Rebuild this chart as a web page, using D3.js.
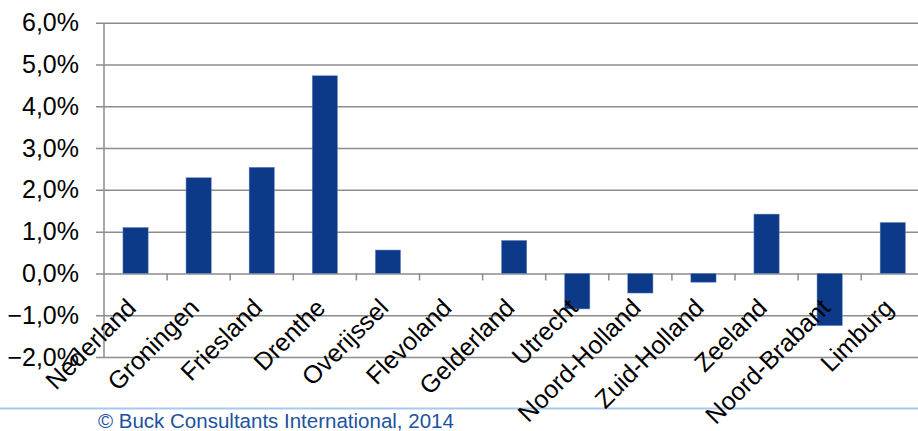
<!DOCTYPE html>
<html>
<head>
<meta charset="utf-8">
<script src="https://cdn.jsdelivr.net/npm/d3@7"></script>
<style>
  html, body { margin: 0; padding: 0; background: #fff; }
  svg { display: block; }
  text { font-family: "Liberation Sans", Arial, sans-serif; }
</style>
</head>
<body>
<svg id="chart" width="918" height="431"></svg>
<script>
const categories = ["Nederland", "Groningen", "Friesland", "Drenthe", "Overijssel", "Flevoland",
  "Gelderland", "Utrecht", "Noord-Holland", "Zuid-Holland", "Zeeland", "Noord-Brabant", "Limburg"];
const values = [1.10, 2.29, 2.54, 4.73, 0.56, 0.00, 0.79, -0.85, -0.47, -0.21, 1.42, -1.25, 1.22];
const yTicks = [-2, -1, 0, 1, 2, 3, 4, 5, 6];
const copyright = "© Buck Consultants International, 2014";

const svg = d3.select("#chart");
const W = 918;
const plotLeft = 104, plotRight = 924.3, plotTop = 22.7, plotBottom = 357;

const x = d3.scaleBand().domain(categories).range([plotLeft, plotRight])
  .paddingInner(0.6).paddingOuter(0.3);
const step = x.step();
const y = d3.scaleLinear().domain([-2, 6]).range([plotBottom, plotTop]);
const fmt = v => d3.format(".1f")(v).replace(".", ",") + "%";

// gridlines + y tick labels
const yAxis = d3.axisLeft(y).tickValues(yTicks).tickFormat(fmt)
  .tickSizeInner(-(W - 96)).tickSizeOuter(0).tickPadding(17);
const gy = svg.append("g").attr("transform", "translate(96,0)").call(yAxis);
gy.select(".domain").remove();
gy.selectAll(".tick line").attr("stroke", "#8c8c8c").attr("stroke-width", 1.5);
gy.selectAll(".tick text").attr("fill", "#000").style("font-size", "25px")
  .style("font-family", "'Liberation Sans', Arial, sans-serif");

// vertical axis line
svg.append("line").attr("x1", plotLeft).attr("x2", plotLeft)
  .attr("y1", y(6)).attr("y2", y(-2)).attr("stroke", "#8c8c8c").attr("stroke-width", 1.5);

// category tick marks at band boundaries
const bounds = categories.map((c, i) => plotLeft + i * step).slice(1);
svg.append("g").selectAll("line").data(bounds).join("line")
  .attr("x1", d => d).attr("x2", d => d)
  .attr("y1", y(0)).attr("y2", y(0) + 7)
  .attr("stroke", "#8c8c8c").attr("stroke-width", 1.5);

// bars
svg.append("g").selectAll("rect").data(values).join("rect")
  .attr("x", (d, i) => x(categories[i]))
  .attr("width", x.bandwidth())
  .attr("y", d => y(Math.max(0, d)))
  .attr("height", d => Math.abs(y(d) - y(0)))
  .attr("fill", "#0c3a88")
  .attr("stroke", "#6f8cc0").attr("stroke-width", 0.5);

// light blue footer line
svg.append("line").attr("x1", 0).attr("x2", W).attr("y1", 408.5).attr("y2", 408.5)
  .attr("stroke", "#a9c8f0").attr("stroke-width", 2);

// copyright
svg.append("text").attr("x", 98).attr("y", 428)
  .attr("fill", "#2152a0").style("font-size", "20.5px").text(copyright);

// category labels
svg.append("g").selectAll("text").data(categories).join("text")
  .attr("transform", d => `translate(${x(d) + x.bandwidth() / 2 + 2},${y(0) + 36}) rotate(-45)`)
  .attr("text-anchor", "end")
  .attr("fill", "#000")
  .style("font-size", "25px")
  .text(d => d);
</script>
</body>
</html>
